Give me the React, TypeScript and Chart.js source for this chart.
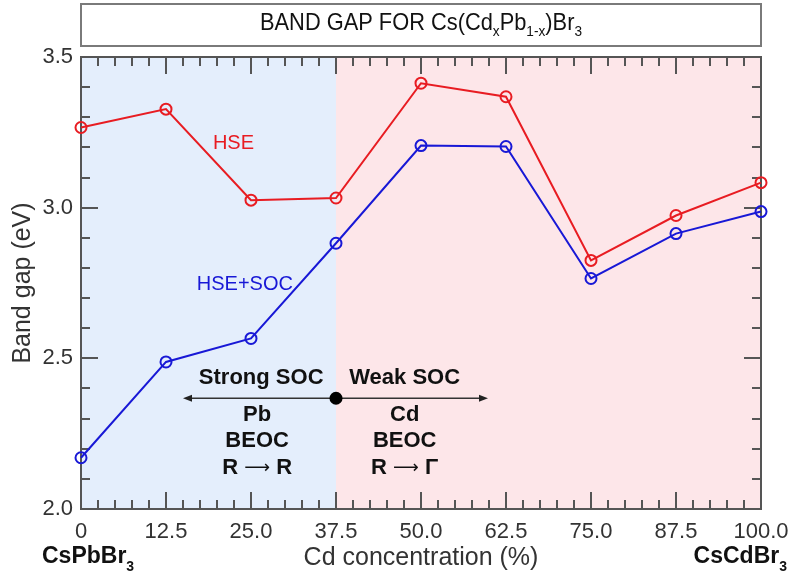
import React, { useEffect, useRef } from "react";
import { Chart, registerables } from "chart.js";

Chart.register(...registerables);

const concentrations = [0, 12.5, 25, 37.5, 50, 62.5, 75, 87.5, 100];
const hseGap = [3.266, 3.327, 3.025, 3.032, 3.413, 3.368, 2.825, 2.974, 3.083];
const hseSocGap = [2.17, 2.488, 2.566, 2.882, 3.206, 3.203, 2.765, 2.914, 2.987];
const xTickValues = [0, 12.5, 25, 37.5, 50, 62.5, 75, 87.5, 100];
const yTickValues = [2.0, 2.5, 3.0, 3.5];
const regionSplit = 37.5;

const RED = "rgb(232,28,34)";
const BLUE = "rgb(24,24,214)";
const TXT = "#333333";
const AXIS = "#555555";
const SANS = '"Liberation Sans", Arial, Helvetica, sans-serif';
const ARROWFONT = '"DejaVu Sans", sans-serif';

type Seg = { t: string; font: string; dy?: number };

function drawSegs(ctx: CanvasRenderingContext2D, segs: Seg[], x: number, y: number, align: "left" | "right" | "center", targetW?: number) {
  ctx.save();
  let w = 0;
  const widths = segs.map((s) => {
    ctx.font = s.font;
    const m = ctx.measureText(s.t).width;
    w += m;
    return m;
  });
  const sx = targetW ? targetW / w : 1;
  const totalW = w * sx;
  const start = align === "left" ? x : align === "right" ? x - totalW : x - totalW / 2;
  ctx.translate(start, y);
  ctx.scale(sx, 1);
  ctx.textAlign = "left";
  ctx.textBaseline = "alphabetic";
  let cx = 0;
  segs.forEach((s, i) => {
    ctx.font = s.font;
    ctx.fillText(s.t, cx, s.dy || 0);
    cx += widths[i];
  });
  ctx.restore();
}

const decorPlugin = {
  id: "decor",
  beforeDraw(chart: any) {
    const { ctx, chartArea: a, scales } = chart;
    const xs = scales.x;
    const split = xs.getPixelForValue(regionSplit);
    ctx.save();
    ctx.fillStyle = "rgb(228,238,252)";
    ctx.fillRect(a.left, a.top, split - a.left, a.bottom - a.top);
    ctx.fillStyle = "rgb(253,230,233)";
    ctx.fillRect(split, a.top, a.right - split, a.bottom - a.top);

    // title box
    ctx.fillStyle = "#ffffff";
    ctx.fillRect(a.left, 4, a.right - a.left, 42);
    ctx.strokeStyle = "#7a7a7a";
    ctx.lineWidth = 2;
    ctx.strokeRect(a.left, 4, a.right - a.left, 42);
    ctx.fillStyle = "#111111";
    const m = `24px ${SANS}`;
    const s = `15px ${SANS}`;
    drawSegs(
      ctx,
      [
        { t: "BAND GAP FOR Cs(Cd", font: m },
        { t: "x", font: s, dy: 6 },
        { t: "Pb", font: m },
        { t: "1-x", font: s, dy: 6 },
        { t: ")Br", font: m },
        { t: "3", font: s, dy: 6 },
      ],
      (a.left + a.right) / 2,
      30,
      "center",
      322
    );
    ctx.restore();
  },
  beforeDatasetsDraw(chart: any) {
    const { ctx, chartArea: a, scales } = chart;
    const xs = scales.x;
    const ys = scales.y;
    ctx.save();
    ctx.strokeStyle = AXIS;
    ctx.lineWidth = 2;
    ctx.beginPath();
    for (let i = 0; i <= 40; i++) {
      const v = i * 2.5;
      const px = Math.round(xs.getPixelForValue(v));
      const len = i % 5 === 0 ? 17 : 9;
      ctx.moveTo(px, a.bottom);
      ctx.lineTo(px, a.bottom - len);
      ctx.moveTo(px, a.top);
      ctx.lineTo(px, a.top + len);
    }
    for (let i = 0; i <= 15; i++) {
      const v = 2 + i * 0.1;
      const py = Math.round(ys.getPixelForValue(v));
      const len = i % 5 === 0 ? 17 : 9;
      ctx.moveTo(a.left, py);
      ctx.lineTo(a.left + len, py);
      ctx.moveTo(a.right, py);
      ctx.lineTo(a.right - len, py);
    }
    ctx.stroke();
    ctx.strokeRect(a.left, a.top, a.right - a.left, a.bottom - a.top);
    ctx.restore();
  },
  afterDatasetsDraw(chart: any) {
    const { ctx, chartArea: a, scales } = chart;
    const xs = scales.x;
    const ys = scales.y;
    const X = (v: number) => xs.getPixelForValue(v);
    const Y = (v: number) => ys.getPixelForValue(v);
    ctx.save();
    ctx.textBaseline = "alphabetic";

    ctx.font = `20px ${SANS}`;
    ctx.fillStyle = RED;
    ctx.textAlign = "left";
    ctx.fillText("HSE", X(19.4), Y(3.195));
    ctx.fillStyle = BLUE;
    ctx.textAlign = "center";
    ctx.fillText("HSE+SOC", X(24.1), Y(2.728));

    ctx.fillStyle = "#111111";
    const b = `bold 22px ${SANS}`;
    ctx.font = b;
    ctx.fillText("Strong SOC", X(26.5), Y(2.414));
    ctx.fillText("Weak SOC", X(47.6), Y(2.414));
    ctx.fillText("Pb", X(25.9), Y(2.291));
    ctx.fillText("BEOC", X(25.9), Y(2.205));
    ctx.fillText("Cd", X(47.6), Y(2.291));
    ctx.fillText("BEOC", X(47.6), Y(2.205));
    const arr = `18px ${ARROWFONT}`;
    drawSegs(ctx, [{ t: "R ", font: b }, { t: "\u27F6", font: arr, dy: -1 }, { t: " R", font: b }], X(25.9), Y(2.116), "center");
    drawSegs(ctx, [{ t: "R ", font: b }, { t: "\u27F6", font: arr, dy: -1 }, { t: " \u0393", font: b }], X(47.6), Y(2.116), "center");

    // arrow
    const ay = Y(2.3675);
    const x1 = X(15);
    const x2 = X(59.85);
    ctx.strokeStyle = "#333333";
    ctx.lineWidth = 1.3;
    ctx.beginPath();
    ctx.moveTo(x1 + 4, ay);
    ctx.lineTo(x2 - 4, ay);
    ctx.stroke();
    ctx.fillStyle = "#222222";
    ctx.beginPath();
    ctx.moveTo(x1, ay);
    ctx.lineTo(x1 + 9, ay - 3.5);
    ctx.lineTo(x1 + 9, ay + 3.5);
    ctx.closePath();
    ctx.fill();
    ctx.beginPath();
    ctx.moveTo(x2, ay);
    ctx.lineTo(x2 - 9, ay - 3.5);
    ctx.lineTo(x2 - 9, ay + 3.5);
    ctx.closePath();
    ctx.fill();
    ctx.fillStyle = "#000000";
    ctx.beginPath();
    ctx.arc(X(regionSplit), ay, 6.5, 0, Math.PI * 2);
    ctx.fill();

    // compound labels under axis ends
    ctx.fillStyle = "#111111";
    const cb = `bold 23px ${SANS}`;
    const cs = `bold 14px ${SANS}`;
    drawSegs(ctx, [{ t: "CsPbBr", font: cb }, { t: "3", font: cs, dy: 8 }], a.left - 39, 563, "left");
    drawSegs(ctx, [{ t: "CsCdBr", font: cb }, { t: "3", font: cs, dy: 8 }], a.right + 26, 563, "right");
    ctx.restore();
  },
};

export default function App() {
  const ref = useRef<HTMLCanvasElement | null>(null);
  useEffect(() => {
    document.body.style.margin = "0";
    if (!ref.current) return;
    const chart = new Chart(ref.current, {
      type: "line",
      data: {
        datasets: [
          {
            label: "HSE",
            data: concentrations.map((x, i) => ({ x, y: hseGap[i] })),
            borderColor: RED,
            backgroundColor: "rgba(0,0,0,0)",
            borderWidth: 2,
            pointRadius: 5.5,
            pointBorderWidth: 2,
            pointBorderColor: RED,
            pointBackgroundColor: "rgba(0,0,0,0)",
            clip: false as any,
            tension: 0,
          },
          {
            label: "HSE+SOC",
            data: concentrations.map((x, i) => ({ x, y: hseSocGap[i] })),
            borderColor: BLUE,
            backgroundColor: "rgba(0,0,0,0)",
            borderWidth: 2,
            pointRadius: 5.5,
            pointBorderWidth: 2,
            pointBorderColor: BLUE,
            pointBackgroundColor: "rgba(0,0,0,0)",
            clip: false as any,
            tension: 0,
          },
        ],
      },
      options: {
        responsive: false,
        animation: false,
        devicePixelRatio: 1,
        layout: { padding: { top: 57, right: 30, left: 0, bottom: 0 } },
        plugins: { legend: { display: false }, tooltip: { enabled: false }, title: { display: false } },
        scales: {
          x: {
            type: "linear",
            min: 0,
            max: 100,
            afterBuildTicks: (s: any) => {
              s.ticks = xTickValues.map((v) => ({ value: v }));
            },
            afterFit: (s: any) => {
              s.height = 70;
              s.paddingLeft = 0;
              s.paddingRight = 0;
            },
            grid: { display: false, drawTicks: false },
            border: { display: false },
            ticks: {
              autoSkip: false,
              maxRotation: 0,
              padding: 10,
              color: TXT,
              font: { size: 22, family: SANS },
              callback: (v: any) => (Number(v) === 0 ? "0" : Number(v).toFixed(1)),
            },
            title: {
              display: true,
              text: "Cd concentration (%)",
              color: TXT,
              font: { size: 25, family: SANS },
              padding: { top: 0, bottom: 6 },
            },
          },
          y: {
            type: "linear",
            min: 2,
            max: 3.5,
            afterBuildTicks: (s: any) => {
              s.ticks = yTickValues.map((v) => ({ value: v }));
            },
            afterFit: (s: any) => {
              s.width = 81;
              s.paddingTop = 0;
              s.paddingBottom = 0;
            },
            grid: { display: false, drawTicks: false },
            border: { display: false },
            ticks: {
              padding: 8,
              color: TXT,
              font: { size: 22, family: SANS },
              callback: (v: any) => Number(v).toFixed(1),
            },
            title: {
              display: true,
              text: "Band gap (eV)",
              color: TXT,
              font: { size: 25, family: SANS },
              padding: { top: 8, bottom: 0 },
            },
          },
        },
      },
      plugins: [decorPlugin],
    });
    return () => chart.destroy();
  }, []);
  return (
    <div style={{ width: 791, height: 579, position: "relative" }}>
      <canvas ref={ref} width={791} height={579} style={{ display: "block" }} />
    </div>
  );
}
